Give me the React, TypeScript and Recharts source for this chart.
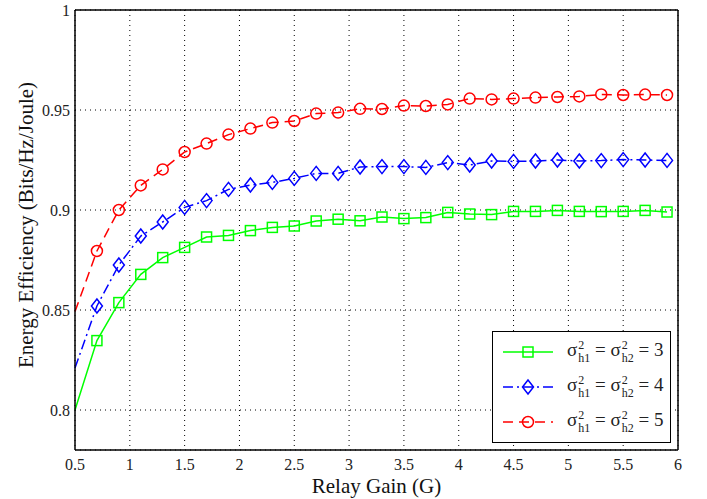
import React from "react";
import { CartesianGrid, Line, LineChart, XAxis, YAxis } from "recharts";

const gains = [
  0.5, 0.7, 0.9, 1.1, 1.3, 1.5, 1.7, 1.9, 2.1, 2.3, 2.5, 2.7, 2.9, 3.1, 3.3, 3.5, 3.7, 3.9, 4.1, 4.3,
  4.5, 4.7, 4.9, 5.1, 5.3, 5.5, 5.7, 5.9,
];
const sigma3 = [
  0.8, 0.8347, 0.8537, 0.8678, 0.8762, 0.8813, 0.8865, 0.8873, 0.8897, 0.8913, 0.892, 0.8945, 0.8954,
  0.8946, 0.8965, 0.8957, 0.8962, 0.8988, 0.898, 0.8977, 0.8993, 0.8993, 0.8998, 0.8993, 0.8992, 0.8993,
  0.8998, 0.899,
];
const sigma4 = [
  0.821, 0.852, 0.8725, 0.887, 0.894, 0.9013, 0.9047, 0.9103, 0.9125, 0.9138, 0.9158, 0.9183, 0.9183,
  0.9215, 0.9217, 0.9217, 0.9213, 0.9237, 0.9225, 0.9245, 0.9243, 0.9245, 0.925, 0.9245, 0.9247, 0.9252,
  0.925, 0.9248,
];
const sigma5 = [
  0.8492, 0.8795, 0.9, 0.9123, 0.9203, 0.929, 0.9332, 0.9377, 0.9407, 0.9437, 0.9445, 0.9482, 0.9487,
  0.9506, 0.9505, 0.9522, 0.952, 0.9528, 0.9557, 0.9553, 0.9557, 0.9562, 0.9565, 0.9568, 0.9578, 0.9575,
  0.9577, 0.9575,
];
const xTicks = [0.5, 1, 1.5, 2, 2.5, 3, 3.5, 4, 4.5, 5, 5.5, 6];
const yTicks = [0.8, 0.85, 0.9, 0.95, 1];
const legendValues = ["3", "4", "5"];

const data = gains.map((g, i) => ({ g, s3: sigma3[i], s4: sigma4[i], s5: sigma5[i] }));

const FONT = "Liberation Serif, DejaVu Serif, serif";

type Shape = "square" | "diamond" | "circle";

const marker = (shape: Shape, color: string, cx: number, cy: number, key?: string | number) => {
  if (shape === "square")
    return <rect key={key} x={cx - 5} y={cy - 5} width={10} height={10} fill="none" stroke={color} strokeWidth={1.5} />;
  if (shape === "diamond")
    return (
      <polygon
        key={key}
        points={`${cx},${cy - 7} ${cx + 5.5},${cy} ${cx},${cy + 7} ${cx - 5.5},${cy}`}
        fill="none"
        stroke={color}
        strokeWidth={1.5}
      />
    );
  return <circle key={key} cx={cx} cy={cy} r={5.5} fill="none" stroke={color} strokeWidth={1.5} />;
};

// no marker on the first point, like the original figure
const makeDot = (shape: Shape, color: string) => (props: any) => {
  const { cx, cy, index } = props;
  if (index === 0 || cx == null || cy == null) return <g key={`d${index}`} />;
  return marker(shape, color, cx, cy, `d${index}`);
};

const series = [
  { key: "s3", color: "#00ff00", dash: undefined, shape: "square" as Shape },
  { key: "s4", color: "#0000ff", dash: "10 4 2 4", shape: "diamond" as Shape },
  { key: "s5", color: "#ff0000", dash: "10 6", shape: "circle" as Shape },
];

const SigmaLabel = ({ value }: { value: string }) => {
  const sub = (s: string) => (
    <span
      style={{
        display: "inline-flex",
        flexDirection: "column",
        fontSize: 12,
        lineHeight: "13px",
        verticalAlign: "middle",
        marginLeft: 1,
      }}
    >
      <span style={{ height: 13 }}>2</span>
      <span style={{ height: 13 }}>{s}</span>
    </span>
  );
  return (
    <span style={{ fontFamily: FONT, fontSize: 19, color: "#222", whiteSpace: "nowrap" }}>
      σ{sub("h1")} = σ{sub("h2")} = {value}
    </span>
  );
};

const Legend = () => (
  <div
    style={{
      position: "absolute",
      left: 492,
      top: 331,
      width: 177,
      height: 106,
      border: "1px solid #000",
      background: "#fff",
      display: "flex",
      flexDirection: "column",
      justifyContent: "space-around",
      padding: "2px 0",
      boxSizing: "content-box",
    }}
  >
    {series.map((s, i) => (
      <div key={s.key} style={{ display: "flex", alignItems: "center", height: 34 }}>
        <svg width={66} height={20} style={{ marginLeft: 8 }}>
          <line x1={2} y1={10} x2={52} y2={10} stroke={s.color} strokeWidth={1.5} strokeDasharray={s.dash} />
          {marker(s.shape, s.color, 27, 10)}
        </svg>
        <SigmaLabel value={legendValues[i]} />
      </div>
    ))}
  </div>
);

export default function App() {
  return (
    <div style={{ position: "absolute", left: 0, top: 0, width: 707, height: 499, background: "#fff" }}>
      <LineChart width={707} height={499} data={data} margin={{ top: 10, right: 29, left: 0, bottom: 0 }}>
        <CartesianGrid stroke="#000" strokeDasharray="1 4" strokeWidth={1} />
        <XAxis
          dataKey="g"
          type="number"
          domain={[0.5, 6]}
          ticks={xTicks}
          height={49}
          tickLine={false}
          axisLine={{ stroke: "#000", strokeWidth: 1.5 }}
          tickSize={3}
          tickMargin={6}
          tick={{ fill: "#222", fontFamily: FONT, fontSize: 16 }}
          label={{ value: "Relay Gain (G)", position: "insideBottom", offset: 6, fill: "#111", fontFamily: FONT, fontSize: 21 }}
        />
        <XAxis xAxisId="top" dataKey="g" type="number" domain={[0.5, 6]} ticks={xTicks} orientation="top" mirror tick={false} tickSize={5} stroke="#000" axisLine={{ stroke: "#000", strokeWidth: 1.5 }} />
        <XAxis xAxisId="bm" dataKey="g" type="number" domain={[0.5, 6]} ticks={xTicks} orientation="bottom" mirror tick={false} tickSize={5} stroke="#000" axisLine={false} />
        <YAxis
          type="number"
          domain={[0.78, 1]}
          ticks={yTicks}
          width={75}
          tickLine={false}
          axisLine={{ stroke: "#000", strokeWidth: 1.5 }}
          tickSize={3}
          tickMargin={2}
          tick={{ fill: "#222", fontFamily: FONT, fontSize: 16 }}
          label={{
            value: "Energy Efficiency (Bits/Hz/Joule)",
            angle: -90,
            position: "center",
            dx: -12,
            dy: -5,
            fill: "#111",
            fontFamily: FONT,
            fontSize: 21,
          }}
        />
        <YAxis yAxisId="right" type="number" domain={[0.78, 1]} ticks={yTicks} orientation="right" mirror tick={false} tickSize={5} stroke="#000" axisLine={{ stroke: "#000", strokeWidth: 1.5 }} />
        <YAxis yAxisId="lm" type="number" domain={[0.78, 1]} ticks={yTicks} orientation="left" mirror tick={false} tickSize={5} stroke="#000" axisLine={false} />
        {series.map((s) => (
          <Line
            key={s.key}
            dataKey={s.key}
            type="linear"
            stroke={s.color}
            strokeWidth={1.5}
            strokeDasharray={s.dash}
            dot={makeDot(s.shape, s.color)}
            activeDot={false}
            isAnimationActive={false}
          />
        ))}
      </LineChart>
      <Legend />
    </div>
  );
}
